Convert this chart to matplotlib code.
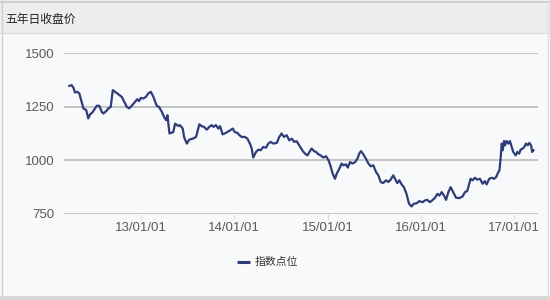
import matplotlib
matplotlib.use('Agg')
import matplotlib.pyplot as plt
import matplotlib.dates as mdates
import numpy as np
import pandas as pd
from matplotlib.patches import Rectangle
from matplotlib.lines import Line2D

title = '五年日收盘价'
series_name = '指数点位'

dates = [
    '2012-03-26', '2012-04-04', '2012-04-11', '2012-04-17', '2012-04-26', '2012-05-04',
    '2012-05-13', '2012-05-20', '2012-05-31', '2012-06-08', '2012-06-15', '2012-06-24',
    '2012-07-02', '2012-07-11', '2012-07-21', '2012-07-31', '2012-08-06', '2012-08-17',
    '2012-08-26', '2012-09-04', '2012-09-12', '2012-09-21', '2012-10-04', '2012-10-17',
    '2012-10-27', '2012-11-06', '2012-11-15', '2012-11-25', '2012-12-08', '2012-12-17',
    '2012-12-24', '2012-12-31', '2013-01-10', '2013-01-20', '2013-01-29', '2013-02-08',
    '2013-02-18', '2013-03-03', '2013-03-12', '2013-03-23', '2013-04-01', '2013-04-09',
    '2013-04-14', '2013-04-22', '2013-05-01', '2013-05-07', '2013-05-14', '2013-05-27',
    '2013-06-02', '2013-06-13', '2013-06-18', '2013-06-29', '2013-07-09', '2013-07-22',
    '2013-08-04', '2013-08-17', '2013-08-26', '2013-09-04', '2013-09-15', '2013-09-25',
    '2013-10-04', '2013-10-11', '2013-10-21', '2013-10-30', '2013-11-06', '2013-11-16',
    '2013-11-29', '2013-12-12', '2013-12-26', '2014-01-02', '2014-01-13', '2014-01-21',
    '2014-01-30', '2014-02-12', '2014-02-21', '2014-03-03', '2014-03-10', '2014-03-16',
    '2014-03-27', '2014-04-05', '2014-04-14', '2014-04-24', '2014-05-05', '2014-05-14',
    '2014-05-23', '2014-06-03', '2014-06-16', '2014-06-26', '2014-07-05', '2014-07-14',
    '2014-07-25', '2014-08-04', '2014-08-14', '2014-08-23', '2014-09-02', '2014-09-12',
    '2014-09-26', '2014-10-05', '2014-10-14', '2014-10-24', '2014-10-31', '2014-11-09',
    '2014-11-17', '2014-11-26', '2014-12-05', '2014-12-15', '2014-12-26', '2015-01-05',
    '2015-01-13', '2015-01-21', '2015-01-30', '2015-02-06', '2015-02-16', '2015-02-25',
    '2015-03-04', '2015-03-14', '2015-03-21', '2015-03-30', '2015-04-08', '2015-04-19',
    '2015-04-28', '2015-05-05', '2015-05-12', '2015-05-21', '2015-05-31', '2015-06-10',
    '2015-06-19', '2015-06-29', '2015-07-10', '2015-07-19', '2015-07-28', '2015-08-07',
    '2015-08-18', '2015-08-27', '2015-09-05', '2015-09-15', '2015-09-22', '2015-10-01',
    '2015-10-09', '2015-10-18', '2015-10-27', '2015-11-06', '2015-11-16', '2015-11-26',
    '2015-12-05', '2015-12-16', '2015-12-26', '2016-01-08', '2016-01-17', '2016-01-26',
    '2016-02-06', '2016-02-17', '2016-02-26', '2016-03-06', '2016-03-14', '2016-03-23',
    '2016-04-01', '2016-04-09', '2016-04-18', '2016-04-27', '2016-05-07', '2016-05-18',
    '2016-05-31', '2016-06-13', '2016-06-22', '2016-07-01', '2016-07-09', '2016-07-14',
    '2016-07-22', '2016-07-31', '2016-08-09', '2016-08-20', '2016-08-30', '2016-09-08',
    '2016-09-15', '2016-09-25', '2016-10-05', '2016-10-14', '2016-10-22', '2016-10-29',
    '2016-11-04', '2016-11-09', '2016-11-13', '2016-11-17', '2016-11-22', '2016-11-26',
    '2016-12-02', '2016-12-09', '2016-12-15', '2016-12-22', '2016-12-28', '2017-01-07',
    '2017-01-13', '2017-01-20', '2017-01-26', '2017-02-03', '2017-02-09', '2017-02-16',
    '2017-02-23', '2017-03-01', '2017-03-08', '2017-03-12', '2017-03-17',
]

values = [
    1347, 1350, 1338, 1316, 1319, 1312,
    1272, 1242, 1234, 1195, 1214, 1223,
    1237, 1254, 1254, 1226, 1218, 1229,
    1242, 1249, 1327, 1319, 1308, 1296,
    1272, 1249, 1242, 1254, 1272, 1285,
    1276, 1291, 1288, 1296, 1312, 1319,
    1296, 1254, 1249, 1226, 1202, 1187,
    1210, 1125, 1129, 1132, 1171, 1160,
    1164, 1148, 1109, 1078, 1097, 1101,
    1109, 1168, 1159, 1156, 1143, 1156,
    1164, 1156, 1164, 1148, 1159, 1121,
    1128, 1137, 1148, 1132, 1128, 1117,
    1109, 1109, 1101, 1078, 1055, 1013,
    1039, 1050, 1047, 1062, 1059, 1078,
    1086, 1078, 1081, 1109, 1125, 1109,
    1117, 1093, 1101, 1086, 1089, 1070,
    1043, 1031, 1023, 1043, 1055, 1043,
    1039, 1028, 1023, 1013, 1019, 1000,
    972, 938, 914, 938, 961, 985,
    977, 981, 966, 992, 985, 992,
    1008, 1031, 1043, 1028, 1008, 985,
    972, 977, 945, 930, 899, 894,
    907, 899, 910, 930, 914, 894,
    907, 888, 875, 844, 798, 785,
    798, 800, 810, 805, 813, 816,
    805, 816, 826, 844, 836, 852,
    836, 816, 852, 875, 852, 826,
    824, 832, 852, 857, 891, 914,
    907, 919, 910, 914, 891, 903,
    888, 914, 919, 914, 922, 941,
    953, 1015, 1078, 1047, 1090, 1070,
    1090, 1078, 1090, 1062, 1039, 1023,
    1039, 1031, 1050, 1055, 1062, 1078,
    1070, 1081, 1070, 1039, 1047,
]

y_ticks = [750, 1000, 1250, 1500]
x_tick_dates = ['2013-01-01', '2014-01-01', '2015-01-01', '2016-01-01', '2017-01-01']
x_tick_labels = ['13/01/01', '14/01/01', '15/01/01', '16/01/01', '17/01/01']
x_range = ['2012-03-05', '2017-04-04']

W, H = 550, 300
fig = plt.figure(figsize=(W / 100, H / 100), dpi=100)
fig.patch.set_facecolor('#f8f9fb')

# Background decoration (title bar, borders)
bg = fig.add_axes([0, 0, 1, 1])
bg.set_xlim(0, W)
bg.set_ylim(H, 0)
bg.axis('off')
bg.add_patch(Rectangle((0, 0), W, 33, facecolor='#ededed', edgecolor='none'))
bg.add_patch(Rectangle((0, 296), W, 4, facecolor='#d9d9d9', edgecolor='none'))
bg.plot([0, W], [1.5, 1.5], color='#c8c8c8', lw=1.2)
bg.plot([0, W], [33, 33], color='#dcdcdc', lw=1.0)
bg.plot([2, 2], [0, 296], color='#cfcfcf', lw=1.0)
bg.plot([548, 548], [0, 296], color='#e2e2e2', lw=1.0)
bg.text(5, 19, title, fontsize=8.5, color='#222222', va='center', ha='left',
        family=['Noto Sans CJK SC', 'DejaVu Sans'])

# Legend
bg.plot([237, 250], [262, 262], color='#2e3c78', lw=2.2, solid_capstyle='butt')
bg.text(255, 262, series_name, fontsize=7.8, color='#333333', va='center', ha='left',
        family=['Noto Sans CJK SC', 'DejaVu Sans'])

# Main chart
ax = fig.add_axes([64 / W, 1 - 214 / H, (538 - 64) / W, (214 - 53) / H])
ax.set_facecolor('none')
x = pd.to_datetime(dates)
ax.plot(x, values, color='#2e3c78', lw=1.6, solid_joinstyle='round', clip_on=False)

ax.set_ylim(750, 1500)
ax.set_xlim(pd.to_datetime(x_range[0]), pd.to_datetime(x_range[1]))
ax.set_yticks(y_ticks)
ax.set_yticklabels([str(v) for v in y_ticks])
ax.set_xticks(pd.to_datetime(x_tick_dates))
ax.set_xticklabels(x_tick_labels)
for s in ax.spines.values():
    s.set_visible(False)
ax.grid(axis='y', color='#c4c4c4', lw=1.4)
ax.grid(axis='x', visible=False)
ax.set_axisbelow(True)
ax.tick_params(axis='y', length=0, pad=7, labelsize=9.5, labelcolor='#5a5a5a')
ax.tick_params(axis='x', length=4, width=0.8, color='#d8dee6', pad=1.5,
               labelsize=9.5, labelcolor='#5a5a5a')
for lab in ax.get_xticklabels() + ax.get_yticklabels():
    lab.set_family(['Liberation Sans', 'DejaVu Sans'])

fig.savefig('out.png', dpi=100, facecolor=fig.get_facecolor())
